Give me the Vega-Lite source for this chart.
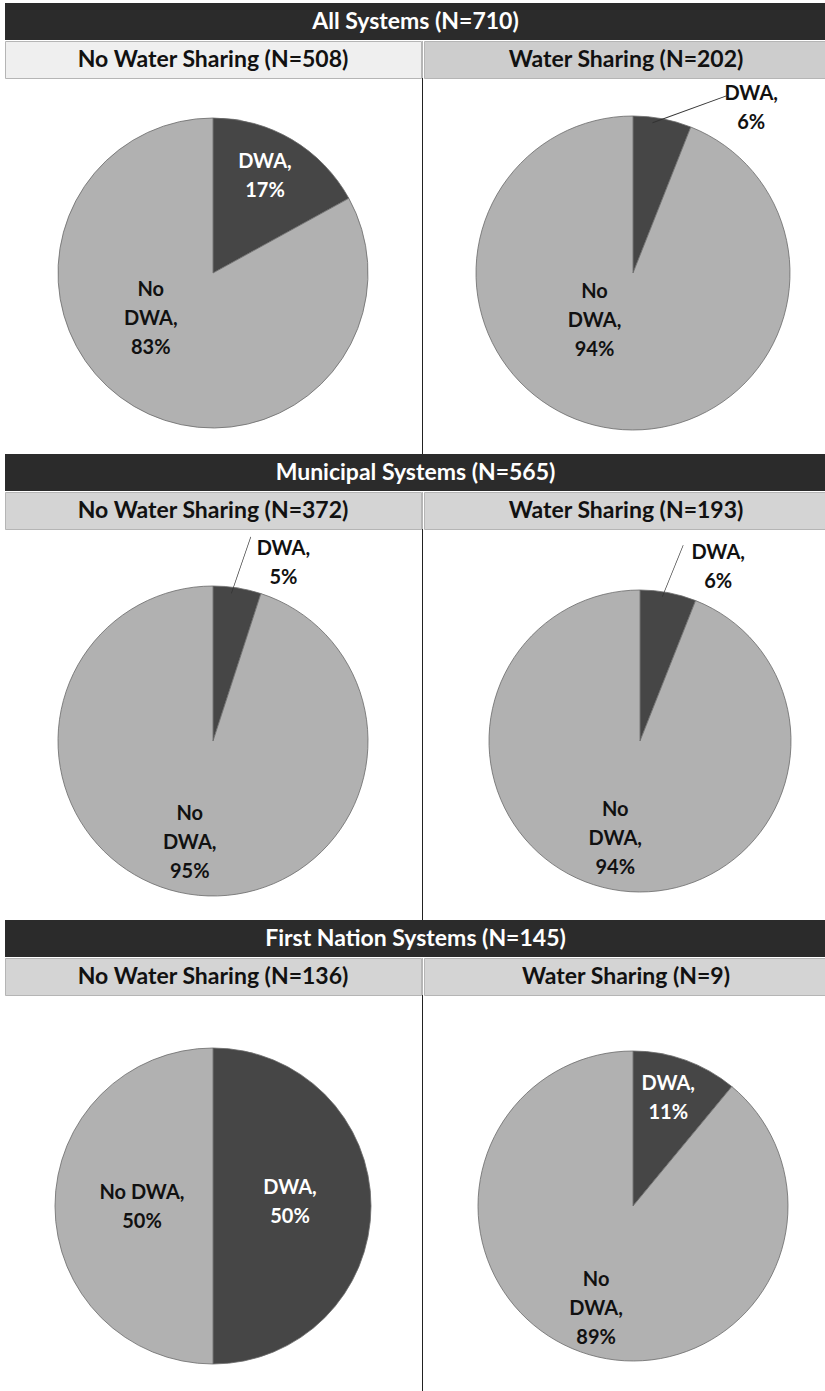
{
  "$schema": "https://vega.github.io/schema/vega-lite/v6.json",
  "padding": {"left": 4, "top": 3, "right": 0, "bottom": 0},
  "background": "#ffffff",
  "spacing": 0,
  "config": {
    "view": {"stroke": null},
    "text": {"font": "Lato", "fontWeight": "bold"},
    "concat": {"spacing": 0}
  },
  "datasets": {
    "pies": [
      {"section": "All Systems (N=710)", "panel": "No Water Sharing (N=508)", "category": "DWA", "pct": 17, "label": "DWA,|17%"},
      {"section": "All Systems (N=710)", "panel": "No Water Sharing (N=508)", "category": "No DWA", "pct": 83, "label": "No|DWA,|83%"},
      {"section": "All Systems (N=710)", "panel": "Water Sharing (N=202)", "category": "DWA", "pct": 6, "label": "DWA,|6%"},
      {"section": "All Systems (N=710)", "panel": "Water Sharing (N=202)", "category": "No DWA", "pct": 94, "label": "No|DWA,|94%"},
      {"section": "Municipal Systems (N=565)", "panel": "No Water Sharing (N=372)", "category": "DWA", "pct": 5, "label": "DWA,|5%"},
      {"section": "Municipal Systems (N=565)", "panel": "No Water Sharing (N=372)", "category": "No DWA", "pct": 95, "label": "No|DWA,|95%"},
      {"section": "Municipal Systems (N=565)", "panel": "Water Sharing (N=193)", "category": "DWA", "pct": 6, "label": "DWA,|6%"},
      {"section": "Municipal Systems (N=565)", "panel": "Water Sharing (N=193)", "category": "No DWA", "pct": 94, "label": "No|DWA,|94%"},
      {"section": "First Nation Systems (N=145)", "panel": "No Water Sharing (N=136)", "category": "DWA", "pct": 50, "label": "DWA,|50%"},
      {"section": "First Nation Systems (N=145)", "panel": "No Water Sharing (N=136)", "category": "No DWA", "pct": 50, "label": "No DWA,|50%"},
      {"section": "First Nation Systems (N=145)", "panel": "Water Sharing (N=9)", "category": "DWA", "pct": 11, "label": "DWA,|11%"},
      {"section": "First Nation Systems (N=145)", "panel": "Water Sharing (N=9)", "category": "No DWA", "pct": 89, "label": "No|DWA,|89%"}
    ]
  },
  "vconcat": [
    {
      "spacing": 0,
      "vconcat": [
        {"width": 821, "height": 37, "view": {"fill": "#2b2b2b"}, "data": {"name": "pies"},
         "transform": [{"filter": {"field": "section", "equal": "All Systems (N=710)"}}, {"aggregate": [{"op": "count", "as": "n"}], "groupby": ["section"]}],
         "mark": {"type": "text", "color": "#ffffff", "fontSize": 23, "baseline": "middle"}, "encoding": {"text": {"field": "section"}}},
        {"spacing": 0, "hconcat": [
          {"bounds": "flush", "spacing": 14, "vconcat": [
            {"width": 416, "height": 37, "view": {"fill": "#efefef", "stroke": "#b5b5b5"}, "data": {"name": "pies"},
             "transform": [{"filter": {"field": "panel", "equal": "No Water Sharing (N=508)"}}, {"aggregate": [{"op": "count", "as": "n"}], "groupby": ["panel"]}],
             "mark": {"type": "text", "color": "#111111", "fontSize": 23, "baseline": "middle"}, "encoding": {"text": {"field": "panel"}}},
            {"width": 416, "height": 362, "data": {"name": "pies"},
             "transform": [{"filter": {"and": [{"field": "section", "equal": "All Systems (N=710)"}, {"field": "panel", "equal": "No Water Sharing (N=508)"}]}}],
             "encoding": {"theta": {"field": "pct", "type": "quantitative", "stack": true}, "order": {"field": "category", "sort": "ascending"}, "detail": {"field": "category"}},
             "layer": [
               {"mark": {"type": "arc", "radius": 155, "stroke": "#6a6a6a", "strokeWidth": 0.8},
                "encoding": {"color": {"field": "category", "type": "nominal", "scale": {"domain": ["DWA", "No DWA"], "range": ["#464646", "#b1b1b1"]}, "legend": null}}},
               {"mark": {"type": "text", "fontSize": 20, "lineBreak": "|", "lineHeight": 29, "baseline": "middle", "align": "center", "color": "#ffffff", "radius": 110, "dx": -4, "dy": -16.5},
                "encoding": {"text": {"condition": {"test": "datum.category == 'DWA'", "field": "label"}, "value": ""}}},
               {"mark": {"type": "text", "fontSize": 20, "lineBreak": "|", "lineHeight": 29, "baseline": "middle", "align": "center", "color": "#111111", "radius": 77, "dx": -23, "dy": -49},
                "encoding": {"text": {"condition": {"test": "datum.category == 'No DWA'", "field": "label"}, "value": ""}}}
             ]}
          ]},
          {"bounds": "flush", "spacing": 0, "vconcat": [
            {"width": 1, "height": 37, "view": {"fill": "#b5b5b5"}, "data": {"values": [{}]}, "mark": "text", "encoding": {"text": {"value": ""}}},
            {"width": 1, "height": 376, "view": {"fill": "#222222"}, "data": {"values": [{}]}, "mark": "text", "encoding": {"text": {"value": ""}}}
          ]},
          {"bounds": "flush", "spacing": 14, "vconcat": [
            {"width": 404, "height": 37, "view": {"fill": "#cdcdcd", "stroke": "#b5b5b5"}, "data": {"name": "pies"},
             "transform": [{"filter": {"field": "panel", "equal": "Water Sharing (N=202)"}}, {"aggregate": [{"op": "count", "as": "n"}], "groupby": ["panel"]}],
             "mark": {"type": "text", "color": "#111111", "fontSize": 23, "baseline": "middle"}, "encoding": {"text": {"field": "panel"}}},
            {"width": 404, "height": 362, "data": {"name": "pies"},
             "transform": [{"filter": {"and": [{"field": "section", "equal": "All Systems (N=710)"}, {"field": "panel", "equal": "Water Sharing (N=202)"}]}}],
             "encoding": {"theta": {"field": "pct", "type": "quantitative", "stack": true}, "order": {"field": "category", "sort": "ascending"}, "detail": {"field": "category"}},
             "layer": [
               {"mark": {"type": "arc", "radius": 157, "stroke": "#6a6a6a", "strokeWidth": 0.8, "xOffset": 7},
                "encoding": {"color": {"field": "category", "type": "nominal", "scale": {"domain": ["DWA", "No DWA"], "range": ["#464646", "#b1b1b1"]}, "legend": null}}},
               {"mark": {"type": "text", "fontSize": 20, "lineBreak": "|", "lineHeight": 29, "baseline": "middle", "align": "center", "color": "#111111", "xOffset": 7, "dx": 83, "dy": 5.5},
                "encoding": {"text": {"condition": {"test": "datum.category == 'DWA'", "field": "label"}, "value": ""},
                  "radius": {"field": "pct", "type": "quantitative", "scale": {"type": "linear", "domain": [0, 10, 11, 100], "range": [188, 188, 0, 0]}}}},
               {"mark": {"type": "text", "font": "Lato", "fontWeight": 200, "fontSize": 86, "angle": 70, "baseline": "middle", "align": "center", "color": "#333333", "xOffset": 7, "dx": 15, "dy": -22},
                "encoding": {"text": {"condition": {"test": "datum.category == 'DWA'", "value": "|"}, "value": ""},
                  "radius": {"field": "pct", "type": "quantitative", "scale": {"type": "linear", "domain": [0, 10, 11, 100], "range": [174, 174, 0, 0]}}}},
               {"mark": {"type": "text", "fontSize": 20, "lineBreak": "|", "lineHeight": 29, "baseline": "middle", "align": "center", "color": "#111111", "xOffset": 7, "radius": 61, "dx": -27, "dy": -41},
                "encoding": {"text": {"condition": {"test": "datum.category == 'No DWA'", "field": "label"}, "value": ""}}}
             ],
             "resolve": {"scale": {"radius": "independent"}}}
          ]}
        ]}
      ]
    },
    {
      "spacing": 0,
      "vconcat": [
        {"width": 821, "height": 37, "view": {"fill": "#2b2b2b"}, "data": {"name": "pies"},
         "transform": [{"filter": {"field": "section", "equal": "Municipal Systems (N=565)"}}, {"aggregate": [{"op": "count", "as": "n"}], "groupby": ["section"]}],
         "mark": {"type": "text", "color": "#ffffff", "fontSize": 23, "baseline": "middle"}, "encoding": {"text": {"field": "section"}}},
        {"spacing": 0, "hconcat": [
          {"bounds": "flush", "spacing": 33, "vconcat": [
            {"width": 416, "height": 37, "view": {"fill": "#d4d4d4", "stroke": "#b5b5b5"}, "data": {"name": "pies"},
             "transform": [{"filter": {"field": "panel", "equal": "No Water Sharing (N=372)"}}, {"aggregate": [{"op": "count", "as": "n"}], "groupby": ["panel"]}],
             "mark": {"type": "text", "color": "#111111", "fontSize": 23, "baseline": "middle"}, "encoding": {"text": {"field": "panel"}}},
            {"width": 416, "height": 358, "data": {"name": "pies"},
             "transform": [{"filter": {"and": [{"field": "section", "equal": "Municipal Systems (N=565)"}, {"field": "panel", "equal": "No Water Sharing (N=372)"}]}}],
             "encoding": {"theta": {"field": "pct", "type": "quantitative", "stack": true}, "order": {"field": "category", "sort": "ascending"}, "detail": {"field": "category"}},
             "layer": [
               {"mark": {"type": "arc", "radius": 155, "stroke": "#6a6a6a", "strokeWidth": 0.8},
                "encoding": {"color": {"field": "category", "type": "nominal", "scale": {"domain": ["DWA", "No DWA"], "range": ["#464646", "#b1b1b1"]}, "legend": null}}},
               {"mark": {"type": "text", "fontSize": 20, "lineBreak": "|", "lineHeight": 29, "baseline": "middle", "align": "center", "color": "#111111", "dx": 41, "dy": -6.5},
                "encoding": {"text": {"condition": {"test": "datum.category == 'DWA'", "field": "label"}, "value": ""},
                  "radius": {"field": "pct", "type": "quantitative", "scale": {"type": "linear", "domain": [0, 10, 11, 100], "range": [188, 188, 0, 0]}}}},
               {"mark": {"type": "text", "font": "Lato", "fontWeight": 200, "fontSize": 64, "angle": 19, "baseline": "middle", "align": "center", "color": "#333333", "dy": -2},
                "encoding": {"text": {"condition": {"test": "datum.category == 'DWA'", "value": "|"}, "value": ""},
                  "radius": {"field": "pct", "type": "quantitative", "scale": {"type": "linear", "domain": [0, 10, 11, 100], "range": [177, 177, 0, 0]}}}},
               {"mark": {"type": "text", "fontSize": 20, "lineBreak": "|", "lineHeight": 29, "baseline": "middle", "align": "center", "color": "#111111", "radius": 104, "dx": -7, "dy": -30},
                "encoding": {"text": {"condition": {"test": "datum.category == 'No DWA'", "field": "label"}, "value": ""}}}
             ],
             "resolve": {"scale": {"radius": "independent"}}}
          ]},
          {"bounds": "flush", "spacing": 0, "vconcat": [
            {"width": 1, "height": 37, "view": {"fill": "#b5b5b5"}, "data": {"values": [{}]}, "mark": "text", "encoding": {"text": {"value": ""}}},
            {"width": 1, "height": 391, "view": {"fill": "#222222"}, "data": {"values": [{}]}, "mark": "text", "encoding": {"text": {"value": ""}}}
          ]},
          {"bounds": "flush", "spacing": 33, "vconcat": [
            {"width": 404, "height": 37, "view": {"fill": "#d4d4d4", "stroke": "#b5b5b5"}, "data": {"name": "pies"},
             "transform": [{"filter": {"field": "panel", "equal": "Water Sharing (N=193)"}}, {"aggregate": [{"op": "count", "as": "n"}], "groupby": ["panel"]}],
             "mark": {"type": "text", "color": "#111111", "fontSize": 23, "baseline": "middle"}, "encoding": {"text": {"field": "panel"}}},
            {"width": 404, "height": 358, "data": {"name": "pies"},
             "transform": [{"filter": {"and": [{"field": "section", "equal": "Municipal Systems (N=565)"}, {"field": "panel", "equal": "Water Sharing (N=193)"}]}}],
             "encoding": {"theta": {"field": "pct", "type": "quantitative", "stack": true}, "order": {"field": "category", "sort": "ascending"}, "detail": {"field": "category"}},
             "layer": [
               {"mark": {"type": "arc", "radius": 151, "stroke": "#6a6a6a", "strokeWidth": 0.8, "xOffset": 14},
                "encoding": {"color": {"field": "category", "type": "nominal", "scale": {"domain": ["DWA", "No DWA"], "range": ["#464646", "#b1b1b1"]}, "legend": null}}},
               {"mark": {"type": "text", "fontSize": 20, "lineBreak": "|", "lineHeight": 29, "baseline": "middle", "align": "center", "color": "#111111", "xOffset": 14, "dx": 43, "dy": -3.5},
                "encoding": {"text": {"condition": {"test": "datum.category == 'DWA'", "field": "label"}, "value": ""},
                  "radius": {"field": "pct", "type": "quantitative", "scale": {"type": "linear", "domain": [0, 10, 11, 100], "range": [188, 188, 0, 0]}}}},
               {"mark": {"type": "text", "font": "Lato", "fontWeight": 200, "fontSize": 60, "angle": 22, "baseline": "middle", "align": "center", "color": "#333333", "xOffset": 14, "dy": -2},
                "encoding": {"text": {"condition": {"test": "datum.category == 'DWA'", "value": "|"}, "value": ""},
                  "radius": {"field": "pct", "type": "quantitative", "scale": {"type": "linear", "domain": [0, 10, 11, 100], "range": [172, 172, 0, 0]}}}},
               {"mark": {"type": "text", "fontSize": 20, "lineBreak": "|", "lineHeight": 29, "baseline": "middle", "align": "center", "color": "#111111", "xOffset": 14, "radius": 100, "dx": -6, "dy": -29},
                "encoding": {"text": {"condition": {"test": "datum.category == 'No DWA'", "field": "label"}, "value": ""}}}
             ],
             "resolve": {"scale": {"radius": "independent"}}}
          ]}
        ]}
      ]
    },
    {
      "spacing": 0,
      "vconcat": [
        {"width": 821, "height": 37, "view": {"fill": "#2b2b2b"}, "data": {"name": "pies"},
         "transform": [{"filter": {"field": "section", "equal": "First Nation Systems (N=145)"}}, {"aggregate": [{"op": "count", "as": "n"}], "groupby": ["section"]}],
         "mark": {"type": "text", "color": "#ffffff", "fontSize": 23, "baseline": "middle"}, "encoding": {"text": {"field": "section"}}},
        {"spacing": 0, "hconcat": [
          {"bounds": "flush", "spacing": 23, "vconcat": [
            {"width": 416, "height": 37, "view": {"fill": "#d4d4d4", "stroke": "#b5b5b5"}, "data": {"name": "pies"},
             "transform": [{"filter": {"field": "panel", "equal": "No Water Sharing (N=136)"}}, {"aggregate": [{"op": "count", "as": "n"}], "groupby": ["panel"]}],
             "mark": {"type": "text", "color": "#111111", "fontSize": 23, "baseline": "middle"}, "encoding": {"text": {"field": "panel"}}},
            {"width": 416, "height": 376, "data": {"name": "pies"},
             "transform": [{"filter": {"and": [{"field": "section", "equal": "First Nation Systems (N=145)"}, {"field": "panel", "equal": "No Water Sharing (N=136)"}]}}],
             "encoding": {"theta": {"field": "pct", "type": "quantitative", "stack": true}, "order": {"field": "category", "sort": "ascending"}, "detail": {"field": "category"}},
             "layer": [
               {"mark": {"type": "arc", "radius": 158, "stroke": "#6a6a6a", "strokeWidth": 0.8},
                "encoding": {"color": {"field": "category", "type": "nominal", "scale": {"domain": ["DWA", "No DWA"], "range": ["#464646", "#b1b1b1"]}, "legend": null}}},
               {"mark": {"type": "text", "fontSize": 20, "lineBreak": "|", "lineHeight": 29, "baseline": "middle", "align": "center", "color": "#ffffff", "radius": 77, "dy": -18.5},
                "encoding": {"text": {"condition": {"test": "datum.category == 'DWA'", "field": "label"}, "value": ""}}},
               {"mark": {"type": "text", "fontSize": 20, "lineBreak": "|", "lineHeight": 29, "baseline": "middle", "align": "center", "color": "#111111", "radius": 71, "dy": -13.5},
                "encoding": {"text": {"condition": {"test": "datum.category == 'No DWA'", "field": "label"}, "value": ""}}}
             ]}
          ]},
          {"bounds": "flush", "spacing": 0, "vconcat": [
            {"width": 1, "height": 37, "view": {"fill": "#b5b5b5"}, "data": {"values": [{}]}, "mark": "text", "encoding": {"text": {"value": ""}}},
            {"width": 1, "height": 399, "view": {"fill": "#222222"}, "data": {"values": [{}]}, "mark": "text", "encoding": {"text": {"value": ""}}}
          ]},
          {"bounds": "flush", "spacing": 23, "vconcat": [
            {"width": 404, "height": 37, "view": {"fill": "#d4d4d4", "stroke": "#b5b5b5"}, "data": {"name": "pies"},
             "transform": [{"filter": {"field": "panel", "equal": "Water Sharing (N=9)"}}, {"aggregate": [{"op": "count", "as": "n"}], "groupby": ["panel"]}],
             "mark": {"type": "text", "color": "#111111", "fontSize": 23, "baseline": "middle"}, "encoding": {"text": {"field": "panel"}}},
            {"width": 404, "height": 376, "data": {"name": "pies"},
             "transform": [{"filter": {"and": [{"field": "section", "equal": "First Nation Systems (N=145)"}, {"field": "panel", "equal": "Water Sharing (N=9)"}]}}],
             "encoding": {"theta": {"field": "pct", "type": "quantitative", "stack": true}, "order": {"field": "category", "sort": "ascending"}, "detail": {"field": "category"}},
             "layer": [
               {"mark": {"type": "arc", "radius": 155, "stroke": "#6a6a6a", "strokeWidth": 0.8, "xOffset": 7},
                "encoding": {"color": {"field": "category", "type": "nominal", "scale": {"domain": ["DWA", "No DWA"], "range": ["#464646", "#b1b1b1"]}, "legend": null}}},
               {"mark": {"type": "text", "fontSize": 20, "lineBreak": "|", "lineHeight": 29, "baseline": "middle", "align": "center", "color": "#ffffff", "xOffset": 7, "radius": 113, "dx": -3, "dy": -15.5},
                "encoding": {"text": {"condition": {"test": "datum.category == 'DWA'", "field": "label"}, "value": ""}}},
               {"mark": {"type": "text", "fontSize": 20, "lineBreak": "|", "lineHeight": 29, "baseline": "middle", "align": "center", "color": "#111111", "xOffset": 7, "radius": 109, "dy": -29},
                "encoding": {"text": {"condition": {"test": "datum.category == 'No DWA'", "field": "label"}, "value": ""}}}
             ]}
          ]}
        ]}
      ]
    }
  ]
}
